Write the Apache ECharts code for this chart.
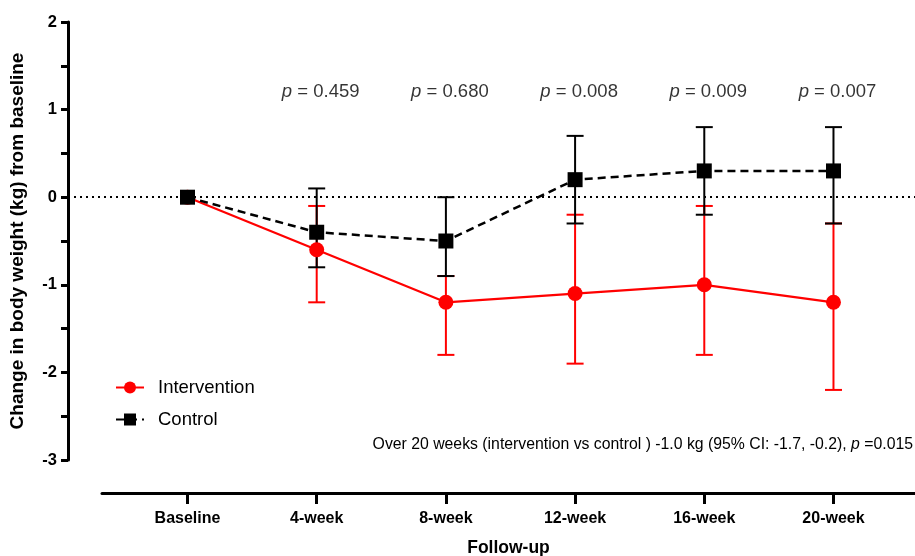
<!DOCTYPE html>
<html>
<head>
<meta charset="utf-8">
<script src="https://cdn.jsdelivr.net/npm/echarts@6/dist/echarts.min.js"></script>
<style>html,body{margin:0;padding:0;background:#fff}#c{width:915px;height:556px}</style>
</head>
<body>
<div id="c"></div>
<script>
const categories = ['Baseline', '4-week', '8-week', '12-week', '16-week', '20-week'];
const interventionMean = [0, -0.6, -1.2, -1.1, -1.0, -1.2];
const interventionLower = [null, -1.2, -1.8, -1.9, -1.8, -2.2];
const interventionUpper = [null, -0.1, -0.9, -0.2, -0.1, -0.3];
const controlMean = [0, -0.4, -0.5, 0.2, 0.3, 0.3];
const controlLower = [null, -0.8, -0.9, -0.3, -0.2, -0.3];
const controlUpper = [null, 0.1, 0.0, 0.7, 0.8, 0.8];
const pValues = [null, '0.459', '0.680', '0.008', '0.009', '0.007'];
const pLabelY = 1.2;
const yMin = -3, yMax = 2, yStep = 0.5;
const annotation = 'Over 20 weeks (intervention vs control ) -1.0 kg (95% CI: -1.7, -0.2), ';
const annotationP = '=0.015';

const FONT = 'Liberation Sans, Arial, sans-serif';
const catIdx = categories.map((c, i) => i);

function errData(lo, hi) {
  const out = [];
  lo.forEach((v, i) => { if (v !== null) out.push([i, v, hi[i]]); });
  return out;
}
function errRender(color) {
  return function (params, api) {
    const x = api.value(0);
    const p1 = api.coord([x, api.value(1)]);
    const p2 = api.coord([x, api.value(2)]);
    const hw = 8.5;
    const st = { stroke: color, lineWidth: 2 };
    return {
      type: 'group',
      children: [
        { type: 'line', shape: { x1: p1[0], y1: p1[1], x2: p2[0], y2: p2[1] }, style: st },
        { type: 'line', shape: { x1: p1[0] - hw, y1: p1[1], x2: p1[0] + hw, y2: p1[1] }, style: st },
        { type: 'line', shape: { x1: p2[0] - hw, y1: p2[1], x2: p2[0] + hw, y2: p2[1] }, style: st }
      ]
    };
  };
}

const chart = echarts.init(document.getElementById('c'));
chart.setOption({
  animation: false,
  textStyle: { fontFamily: FONT },
  grid: [
    { left: 68, right: 0, top: 22, bottom: 96, outerBoundsMode: 'none', containLabel: false },
    { left: 102, right: 0, top: 22, bottom: 96, outerBoundsMode: 'none', containLabel: false }
  ],
  xAxis: [
    { gridIndex: 0, type: 'value', min: -0.925, max: 5.631, show: false },
    {
      gridIndex: 1, type: 'value', min: -0.6618, max: 5.631, offset: 33, position: 'bottom',
      name: 'Follow-up', nameLocation: 'middle', nameGap: 46,
      nameTextStyle: { fontFamily: FONT, fontWeight: 'bold', fontSize: 17.5, color: '#000' },
      axisLine: { show: true, onZero: false, lineStyle: { color: '#000', width: 3 } },
      axisTick: { show: true, length: 11, lineStyle: { color: '#000', width: 3 }, customValues: catIdx },
      axisLabel: {
        customValues: catIdx, margin: 18,
        formatter: v => categories[Math.round(v)] || '',
        fontFamily: FONT, fontWeight: 'bold', fontSize: 16, color: '#000'
      },
      splitLine: { show: false }
    }
  ],
  yAxis: [
    {
      gridIndex: 0, type: 'value', min: yMin, max: yMax, interval: yStep, position: 'left',
      name: 'Change in body weight (kg) from baseline', nameLocation: 'middle', nameGap: 41,
      nameTextStyle: { fontFamily: FONT, fontWeight: 'bold', fontSize: 19, color: '#000' },
      axisLine: { show: true, onZero: false, lineStyle: { color: '#000', width: 3 } },
      axisTick: { show: true, length: 7, lineStyle: { color: '#000', width: 3 } },
      axisLabel: {
        margin: 11, fontFamily: FONT, fontWeight: 'bold', fontSize: 16.5, color: '#000',
        formatter: v => (Math.abs(v - Math.round(v)) < 1e-6 ? String(Math.round(v)) : '')
      },
      splitLine: { show: false }
    },
    { gridIndex: 1, type: 'value', min: yMin, max: yMax, show: false }
  ],
  legend: {
    orient: 'vertical', left: 110, top: 373, itemGap: 13,
    itemWidth: 28, itemHeight: 15,
    textStyle: { fontFamily: FONT, fontSize: 18.5, color: '#000', padding: [0, 0, 0, 9] },
    data: ['Intervention', 'Control']
  },
  graphic: [{
    type: 'text', right: 2, top: 437,
    style: {
      text: annotation + '{i|p} ' + annotationP,
      font: '15.8px ' + FONT, fill: '#000',
      rich: { i: { fontStyle: 'italic', fontSize: 15.8, fontFamily: FONT, fill: '#000' } }
    }
  }],
  series: [
    {
      type: 'custom', name: 'intErr', xAxisIndex: 0, yAxisIndex: 0, z: 1,
      renderItem: errRender('#ff0000'), data: errData(interventionLower, interventionUpper)
    },
    {
      type: 'custom', name: 'ctlErr', xAxisIndex: 0, yAxisIndex: 0, z: 2,
      renderItem: errRender('#000000'), data: errData(controlLower, controlUpper)
    },
    {
      type: 'line', name: 'Intervention', xAxisIndex: 0, yAxisIndex: 0, z: 3,
      data: interventionMean.map((v, i) => [i, v]),
      symbol: 'circle', symbolSize: 15,
      itemStyle: { color: '#ff0000' },
      lineStyle: { color: '#ff0000', width: 2.2 }
    },
    {
      type: 'line', name: 'Control', xAxisIndex: 0, yAxisIndex: 0, z: 4,
      data: controlMean.map((v, i) => [i, v]),
      symbol: 'rect', symbolSize: 15,
      itemStyle: { color: '#000' },
      lineStyle: { color: '#000', width: 2.5, type: [8, 5] },
      markLine: {
        silent: true, symbol: 'none', label: { show: false }, z: 0,
        lineStyle: { color: '#000', width: 2, type: [2, 4] },
        data: [{ yAxis: 0 }]
      }
    },
    {
      type: 'scatter', name: 'p', xAxisIndex: 0, yAxisIndex: 0, symbolSize: 0, silent: true,
      data: pValues.map((p, i) => (p ? { value: [i, pLabelY], p: p } : null)).filter(d => d),
      label: {
        show: true, position: 'inside', offset: [4, 0],
        formatter: d => '{i|p} = ' + d.data.p,
        fontFamily: FONT, fontSize: 18.5, color: '#000',
        rich: { i: { fontStyle: 'italic', fontSize: 18.5, fontFamily: FONT, color: '#000' } }
      }
    }
  ]
});
</script>
</body>
</html>
